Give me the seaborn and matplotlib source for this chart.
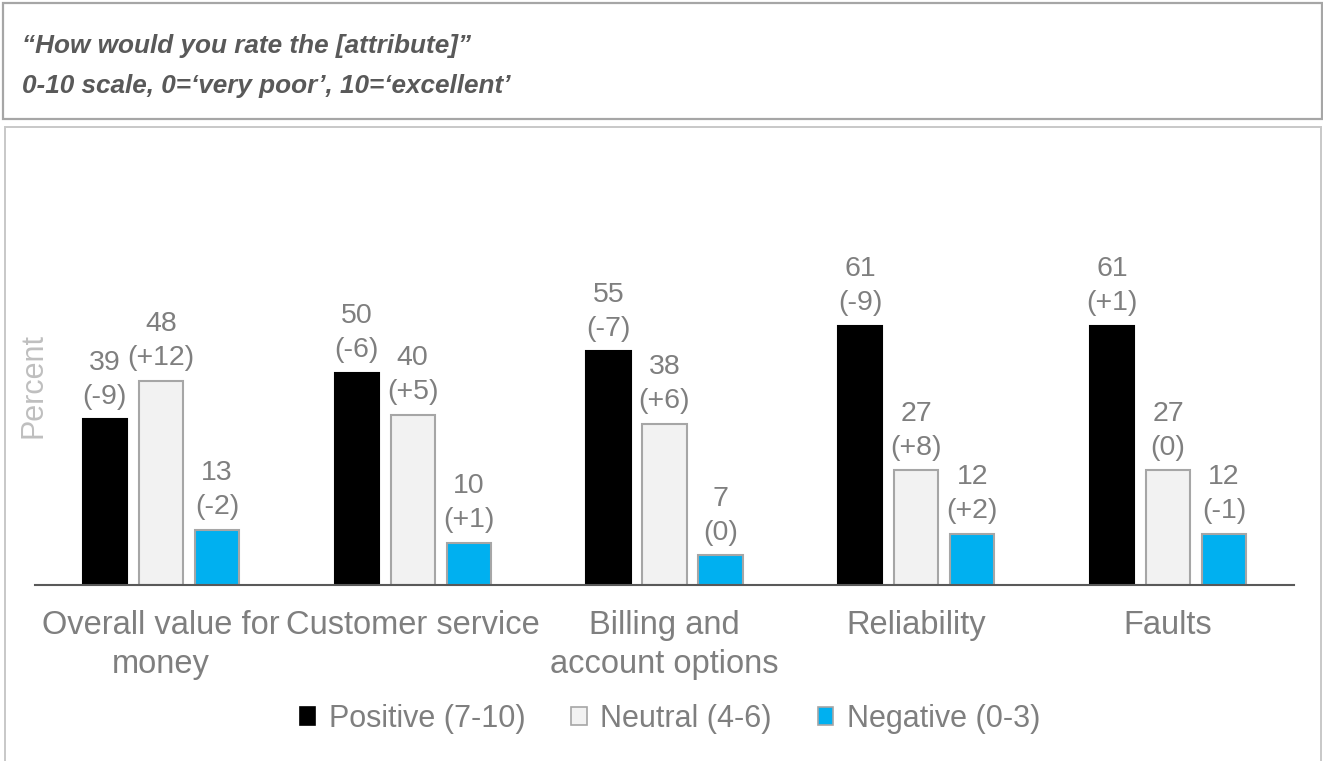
import matplotlib
matplotlib.use("Agg")
import matplotlib.pyplot as plt
import seaborn as sns
import pandas as pd
from matplotlib.patches import Rectangle, Patch

# Survey attribute ratings: share of respondents per band, with change vs. previous wave
categories = ["Overall value for\nmoney", "Customer service", "Billing and\naccount options",
              "Reliability", "Faults"]
series = ["Positive (7-10)", "Neutral (4-6)", "Negative (0-3)"]
positive = [39, 50, 55, 61, 61]
neutral = [48, 40, 38, 27, 27]
negative = [13, 10, 7, 12, 12]
positive_change = ["-9", "-6", "-7", "-9", "+1"]
neutral_change = ["+12", "+5", "+6", "+8", "0"]
negative_change = ["-2", "+1", "0", "+2", "-1"]

title_lines = ["\u201cHow would you rate the [attribute]\u201d",
               "0-10 scale, 0=\u2018very poor\u2019, 10=\u2018excellent\u2019"]

colors = ["#000000", "#F2F2F2", "#00B0F0"]
edges = ["#000000", "#A6A6A6", "#A6A6A6"]
TEXT = "#7F7F7F"

sns.set_theme(style="white")
plt.rcParams["font.family"] = ["Liberation Sans", "DejaVu Sans"]

values = [positive, neutral, negative]
changes = [positive_change, neutral_change, negative_change]
rows = []
for s, vals in zip(series, values):
    for c, v in zip(categories, vals):
        rows.append({"category": c, "series": s, "value": v})
df = pd.DataFrame(rows)

W, H = 1323, 761
fig = plt.figure(figsize=(W / 100, H / 100), dpi=100)

# Framing boxes
fig.patches.append(Rectangle((3 / W, 1 - 119 / H), 1319 / W, 116 / H, transform=fig.transFigure,
                             fill=False, edgecolor="#A6A6A6", linewidth=1.6))
fig.patches.append(Rectangle((5 / W, -0.05), 1316 / W, 1 - 127 / H + 0.05, transform=fig.transFigure,
                             fill=False, edgecolor="#C8C8C8", linewidth=1.4))

for i, line in enumerate(title_lines):
    fig.text(22 / W, 1 - (46 + 40 * i) / H, line, ha="left", va="center", fontsize=18.8,
             fontweight="bold", fontstyle="italic", color="#595959")

ax = fig.add_axes([35 / W, 176 / H, 1259 / W, 425 / H])
sns.barplot(data=df, x="category", y="value", hue="series", order=categories,
            hue_order=series, palette=colors, width=0.667, gap=0.21, saturation=1,
            legend=False, ax=ax)

for i, cont in enumerate(ax.containers):
    for bar in cont:
        bar.set_edgecolor(edges[i])
        bar.set_linewidth(1.5)
    labels = [f"{v}\n({c})" for v, c in zip(values[i], changes[i])]
    ax.bar_label(cont, labels=labels, padding=7, fontsize=20.5, color=TEXT, linespacing=1.4)

ax.set_ylim(0, 100)
ax.set_xlim(-0.5, len(categories) - 0.5)
ax.set_xlabel("")
ax.set_ylabel("")
ax.set_yticks([])
for side in ["left", "right", "top"]:
    ax.spines[side].set_visible(False)
ax.spines["bottom"].set_color("#595959")
ax.spines["bottom"].set_linewidth(1.5)
ax.tick_params(axis="x", length=0, pad=18, labelsize=23.5, labelcolor=TEXT)
for lbl in ax.get_xticklabels():
    lbl.set_linespacing(1.32)
ax.patch.set_alpha(0)

fig.text(33 / W, 1 - 386 / H, "Percent", rotation=90, ha="center", va="center",
         fontsize=22, color="#BFBFBF")

handles = [Patch(facecolor=c, edgecolor=e, linewidth=1.2) for c, e in zip(colors, edges)]
fig.legend(handles, series, loc="center", bbox_to_anchor=(670 / W, 1 - 719 / H), ncol=3,
           frameon=False, fontsize=22, labelcolor=TEXT, handlelength=0.5, handleheight=0.5,
           handletextpad=0.45, columnspacing=1.5, borderpad=0)

fig.savefig("out.png", dpi=100)
